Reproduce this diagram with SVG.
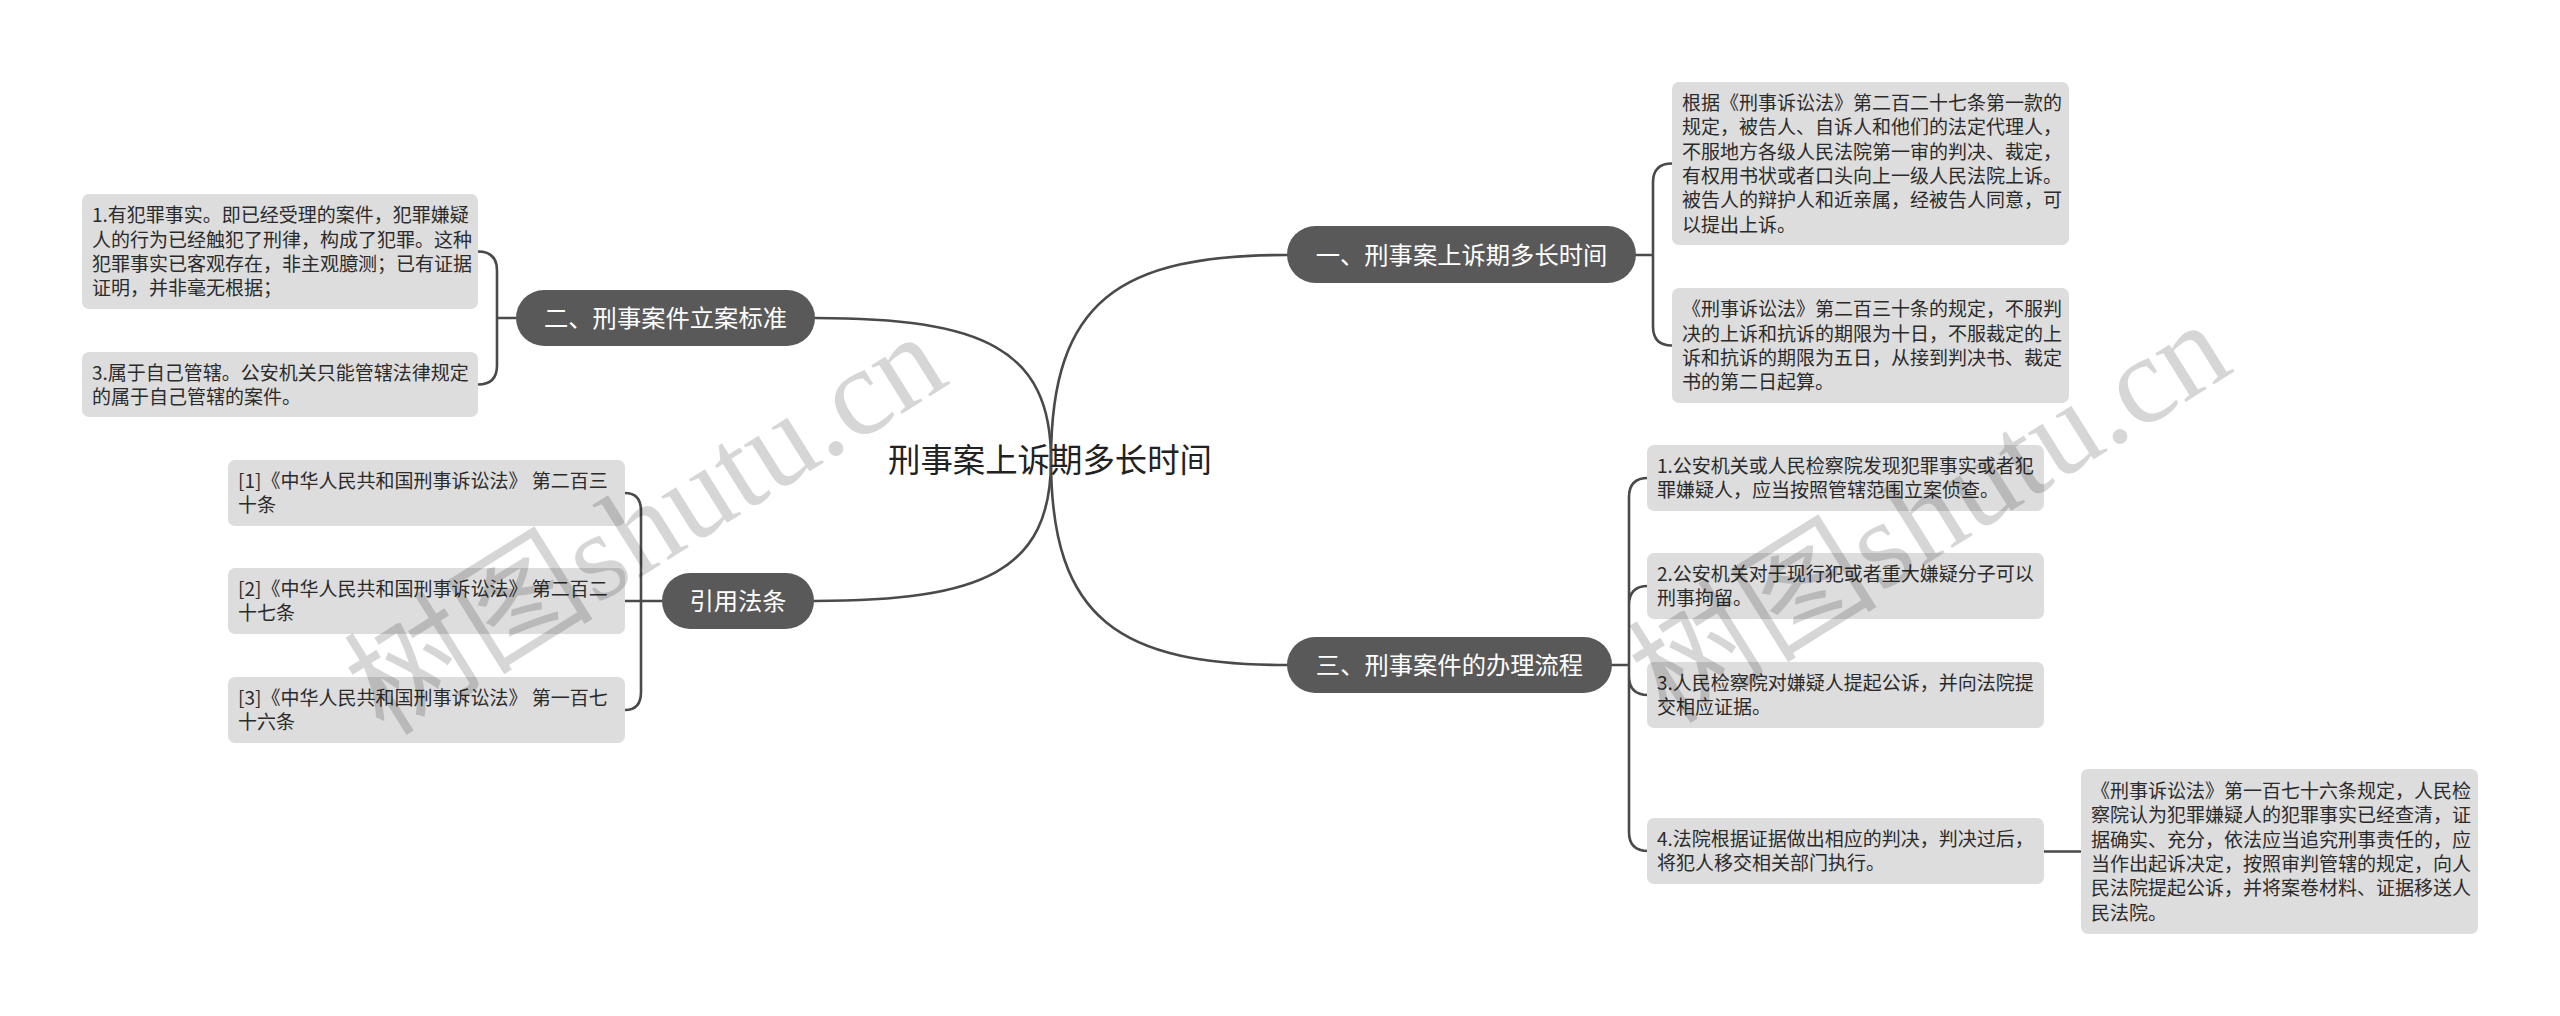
<svg xmlns="http://www.w3.org/2000/svg" width="2560" height="1016" viewBox="0 0 2560 1016">
<style>
.bg{fill:#ffffff}
.leaf rect{fill:#dddddd}
.leaf text{font-family:"Noto Sans CJK SC","Liberation Sans",sans-serif;font-size:19px;fill:#2b2b2b}
.branch rect{fill:#595959}
.branch text{font-family:"Noto Sans CJK SC","Liberation Sans",sans-serif;font-size:24.3px;fill:#ffffff;text-anchor:middle}
.root text{font-family:"Noto Sans CJK SC","Liberation Sans",sans-serif;font-size:32.4px;fill:#222222;text-anchor:middle}
.conn path{fill:none;stroke:#4a4a4a;stroke-width:2.6;stroke-linecap:round}
.wm{font-family:"Liberation Serif","Noto Sans CJK SC",serif;font-size:125px;fill:#000;fill-opacity:0.16;text-anchor:middle}
</style>
<rect class="bg" x="0" y="0" width="2560" height="1016"/>

<g id="connectors" class="conn">
<path d="M1051,460 C1051,300 1120,255 1287,255"/>
<path d="M1051,460 C1051,620 1120,665 1287,665"/>
<path d="M1051,460 C1051,349 983,318 815,318"/>
<path d="M1051,460 C1051,571 983,601 814,601"/>
<path d="M1636,255 H1653 M1653,255 V182.5 Q1653,163.5 1672,163.5 M1653,255 V326.5 Q1653,345.5 1672,345.5"/>
<path d="M1612,665 H1629 M1629,665 V497 Q1629,478 1648,478 M1629,665 V605 Q1629,586 1648,586 M1629,665 V676 Q1629,695 1648,695 M1629,665 V832 Q1629,851 1648,851"/>
<path d="M2044,851.5 H2081"/>
<path d="M516,318 H497 M497,318 V270.5 Q497,251.5 478,251.5 M497,318 V365.5 Q497,384.5 478,384.5"/>
<path d="M662,601 H641 M641,601 V511 Q641,493 625,493 M641,601 H625 M641,601 V692 Q641,710 625,710"/>
</g>

<g id="root" class="root"><text x="1050" y="472.3">刑事案上诉期多长时间</text></g>

<g id="n1" class="branch"><rect x="1287" y="226" width="349" height="57" rx="28.5"/><text x="1461.5" y="263.7">一、刑事案上诉期多长时间</text></g>
<g id="n2" class="branch"><rect x="516" y="290" width="299" height="56" rx="28"/><text x="665.5" y="327.2">二、刑事案件立案标准</text></g>
<g id="n3" class="branch"><rect x="1287" y="637" width="325" height="56" rx="28"/><text x="1449.5" y="674.2">三、刑事案件的办理流程</text></g>
<g id="n4" class="branch"><rect x="662" y="573" width="152" height="56" rx="28"/><text x="738" y="610.2">引用法条</text></g>

<g id="n1a" class="leaf"><rect x="1672" y="82" width="397" height="163" rx="7"/><text x="1682" y="109.7"><tspan x="1682">根据《刑事诉讼法》第二百二十七条第一款的</tspan><tspan x="1682" dy="24.4">规定，被告人、自诉人和他们的法定代理人，</tspan><tspan x="1682" dy="24.4">不服地方各级人民法院第一审的判决、裁定，</tspan><tspan x="1682" dy="24.4">有权用书状或者口头向上一级人民法院上诉。</tspan><tspan x="1682" dy="24.4">被告人的辩护人和近亲属，经被告人同意，可</tspan><tspan x="1682" dy="24.4">以提出上诉。</tspan></text></g>
<g id="n1b" class="leaf"><rect x="1672" y="288" width="397" height="115" rx="7"/><text x="1682" y="316.1"><tspan x="1682">《刑事诉讼法》第二百三十条的规定，不服判</tspan><tspan x="1682" dy="24.4">决的上诉和抗诉的期限为十日，不服裁定的上</tspan><tspan x="1682" dy="24.4">诉和抗诉的期限为五日，从接到判决书、裁定</tspan><tspan x="1682" dy="24.4">书的第二日起算。</tspan></text></g>

<g id="n2a" class="leaf"><rect x="82" y="194" width="396" height="115" rx="7"/><text x="92" y="222.1"><tspan x="92">1.有犯罪事实。即已经受理的案件，犯罪嫌疑</tspan><tspan x="92" dy="24.4">人的行为已经触犯了刑律，构成了犯罪。这种</tspan><tspan x="92" dy="24.4">犯罪事实已客观存在，非主观臆测；已有证据</tspan><tspan x="92" dy="24.4">证明，并非毫无根据；</tspan></text></g>
<g id="n2b" class="leaf"><rect x="82" y="352" width="396" height="65" rx="7"/><text x="92" y="379.5"><tspan x="92">3.属于自己管辖。公安机关只能管辖法律规定</tspan><tspan x="92" dy="24.4">的属于自己管辖的案件。</tspan></text></g>

<g id="n3a" class="leaf"><rect x="1647" y="445" width="397" height="66" rx="7"/><text x="1657" y="473"><tspan x="1657">1.公安机关或人民检察院发现犯罪事实或者犯</tspan><tspan x="1657" dy="24.4">罪嫌疑人，应当按照管辖范围立案侦查。</tspan></text></g>
<g id="n3b" class="leaf"><rect x="1647" y="553" width="397" height="66" rx="7"/><text x="1657" y="581"><tspan x="1657">2.公安机关对于现行犯或者重大嫌疑分子可以</tspan><tspan x="1657" dy="24.4">刑事拘留。</tspan></text></g>
<g id="n3c" class="leaf"><rect x="1647" y="662" width="397" height="66" rx="7"/><text x="1657" y="690"><tspan x="1657">3.人民检察院对嫌疑人提起公诉，并向法院提</tspan><tspan x="1657" dy="24.4">交相应证据。</tspan></text></g>
<g id="n3d" class="leaf"><rect x="1647" y="818" width="397" height="66" rx="7"/><text x="1657" y="846"><tspan x="1657">4.法院根据证据做出相应的判决，判决过后，</tspan><tspan x="1657" dy="24.4">将犯人移交相关部门执行。</tspan></text></g>
<g id="n3d1" class="leaf"><rect x="2081" y="769" width="397" height="165" rx="7"/><text x="2091" y="797.7"><tspan x="2091">《刑事诉讼法》第一百七十六条规定，人民检</tspan><tspan x="2091" dy="24.4">察院认为犯罪嫌疑人的犯罪事实已经查清，证</tspan><tspan x="2091" dy="24.4">据确实、充分，依法应当追究刑事责任的，应</tspan><tspan x="2091" dy="24.4">当作出起诉决定，按照审判管辖的规定，向人</tspan><tspan x="2091" dy="24.4">民法院提起公诉，并将案卷材料、证据移送人</tspan><tspan x="2091" dy="24.4">民法院。</tspan></text></g>

<g id="n4a" class="leaf"><rect x="228" y="460" width="397" height="66" rx="7"/><text x="238" y="488"><tspan x="238">[1]《中华人民共和国刑事诉讼法》 第二百三</tspan><tspan x="238" dy="24.4">十条</tspan></text></g>
<g id="n4b" class="leaf"><rect x="228" y="568" width="397" height="66" rx="7"/><text x="238" y="596"><tspan x="238">[2]《中华人民共和国刑事诉讼法》 第二百二</tspan><tspan x="238" dy="24.4">十七条</tspan></text></g>
<g id="n4c" class="leaf"><rect x="228" y="677" width="397" height="66" rx="7"/><text x="238" y="705"><tspan x="238">[3]《中华人民共和国刑事诉讼法》 第一百七</tspan><tspan x="238" dy="24.4">十六条</tspan></text></g>

<g id="watermarks">
<text class="wm" transform="translate(647,526) rotate(-32)" y="40">树图shutu.cn</text>
<text class="wm" transform="translate(1931,514) rotate(-32)" y="40">树图shutu.cn</text>
</g>
</svg>
